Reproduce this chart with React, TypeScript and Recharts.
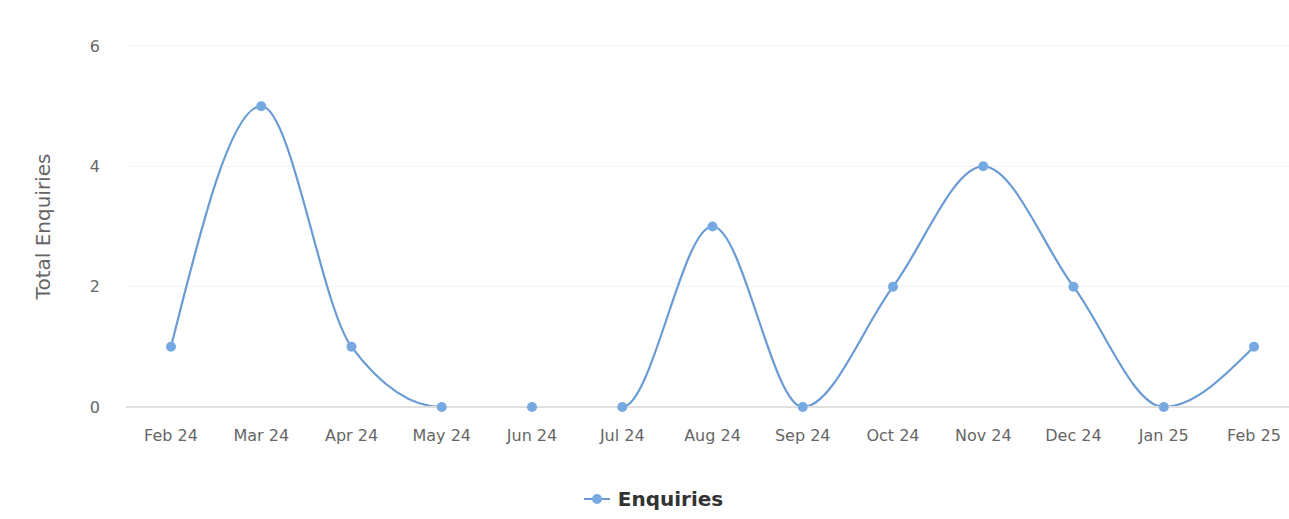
import { LineChart, Line, XAxis, YAxis, CartesianGrid, Legend } from "recharts";

const months = [
  "Feb 24",
  "Mar 24",
  "Apr 24",
  "May 24",
  "Jun 24",
  "Jul 24",
  "Aug 24",
  "Sep 24",
  "Oct 24",
  "Nov 24",
  "Dec 24",
  "Jan 25",
  "Feb 25",
];
const enquiries = [1, 5, 1, 0, 0, 0, 3, 0, 2, 4, 2, 0, 1];
const yTicks = [0, 2, 4, 6];

const data = months.map((month, i) => ({ month, enquiries: enquiries[i] }));

const FONT = "'DejaVu Sans', Verdana, sans-serif";
const LINE_COLOR = "#6a9bd3";
const MARKER_COLOR = "#76a9e2";

function AxisTitle(props: any) {
  const vb = props.viewBox || { x: 0, y: 0, width: 0, height: 0 };
  const cx = vb.x + 43;
  const cy = vb.y + vb.height / 2;
  return (
    <text
      x={cx}
      y={cy}
      transform={`rotate(-90 ${cx} ${cy})`}
      textAnchor="middle"
      dominantBaseline="central"
      fill="#666"
      fontSize={20}
      fontFamily={FONT}
    >
      Total Enquiries
    </text>
  );
}

function LegendContent() {
  return (
    <div
      style={{
        display: "flex",
        justifyContent: "center",
        alignItems: "center",
        fontFamily: FONT,
        paddingLeft: 18,
      }}
    >
      <svg width={26} height={14} style={{ marginRight: 8 }}>
        <line x1={0} y1={7} x2={26} y2={7} stroke={LINE_COLOR} strokeWidth={2} />
        <circle cx={13} cy={7} r={5} fill={MARKER_COLOR} />
      </svg>
      <span style={{ fontWeight: "bold", fontSize: 20, color: "#333" }}>
        Enquiries
      </span>
    </div>
  );
}

export default function App() {
  return (
    <div style={{ position: "absolute", left: 0, top: 0, background: "#fff" }}>
      <LineChart
        width={1289}
        height={519}
        data={data}
        margin={{ top: 46, right: 0, left: 0, bottom: 8 }}
      >
        <CartesianGrid vertical={false} stroke="#f2f2f2" strokeWidth={1} />
        <XAxis
          dataKey="month"
          padding={{ left: 45, right: 35 }}
          tickLine={false}
          tickSize={0}
          tickMargin={23}
          axisLine={{ stroke: "#e0e0e0", strokeWidth: 2 }}
          tick={{ fill: "#666", fontSize: 16, fontFamily: FONT }}
          interval={0}
          height={80}
        />
        <YAxis
          width={126}
          domain={[0, 6]}
          ticks={yTicks}
          axisLine={false}
          tickLine={false}
          tickSize={0}
          tickMargin={26}
          tick={{ fill: "#666", fontSize: 16, fontFamily: FONT }}
          label={<AxisTitle />}
        />
        <Legend verticalAlign="bottom" content={<LegendContent />} />
        <Line
          type="monotone"
          dataKey="enquiries"
          name="Enquiries"
          stroke={LINE_COLOR}
          strokeWidth={2.2}
          dot={{ r: 5, fill: MARKER_COLOR, stroke: MARKER_COLOR, strokeWidth: 0 }}
          activeDot={false}
          isAnimationActive={false}
        />
      </LineChart>
    </div>
  );
}
